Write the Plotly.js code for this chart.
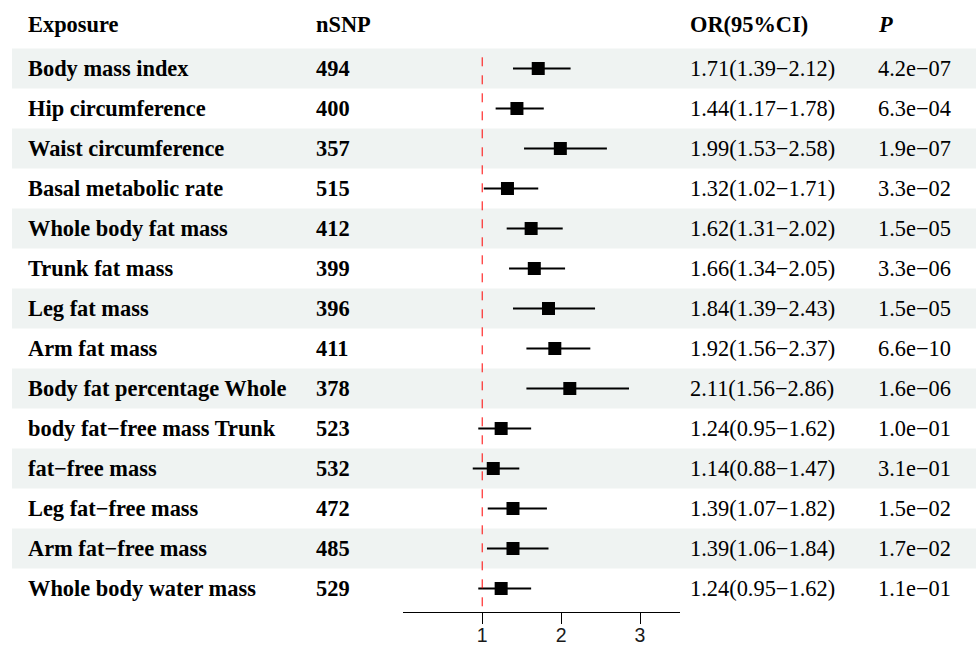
<!DOCTYPE html>
<html>
<head>
<meta charset="utf-8">
<script src="https://cdn.plot.ly/plotly-3.0.1.min.js"></script>
<style>
html,body{margin:0;padding:0;background:#fff;}
#chart{width:976px;height:648px;}
</style>
</head>
<body>
<div id="chart"></div>
<script>
// ---- data ----
const exposures = [
  "Body mass index","Hip circumference","Waist circumference","Basal metabolic rate",
  "Whole body fat mass","Trunk fat mass","Leg fat mass","Arm fat mass",
  "Body fat percentage Whole","body fat\u2212free mass Trunk","fat\u2212free mass",
  "Leg fat\u2212free mass","Arm fat\u2212free mass","Whole body water mass"
];
const nSNP = [494,400,357,515,412,399,396,411,378,523,532,472,485,529];
const orVal = [1.71,1.44,1.99,1.32,1.62,1.66,1.84,1.92,2.11,1.24,1.14,1.39,1.39,1.24];
const ciLow = [1.39,1.17,1.53,1.02,1.31,1.34,1.39,1.56,1.56,0.95,0.88,1.07,1.06,0.95];
const ciHigh = [2.12,1.78,2.58,1.71,2.02,2.05,2.43,2.37,2.86,1.62,1.47,1.82,1.84,1.62];
const pVals = ["4.2e\u221207","6.3e\u221204","1.9e\u221207","3.3e\u221202","1.5e\u221205","3.3e\u221206",
  "1.5e\u221205","6.6e\u221210","1.6e\u221206","1.0e\u221201","3.1e\u221201","1.5e\u221202","1.7e\u221202","1.1e\u221201"];
const headers = ["Exposure","nSNP","OR(95%CI)","P"];
const tickVals = [1,2,3];
const tickText = ["1","2","3"];
const refValue = 1;

// ---- layout helpers ----
const W = 976, H = 648;
const rows = exposures.map((_, i) => i + 1);
const fmt = v => v.toFixed(2);
const serif = "Liberation Serif, Times New Roman, serif";
const txtFont = {family: serif, size: 22.4, color: "#000"};

const shapes = [];
rows.forEach((r, i) => {
  if (i % 2 === 0) {
    shapes.push({type:"rect", xref:"paper", yref:"y", x0:12/W, x1:1, y0:r-0.5, y1:r+0.5,
      fillcolor:"#eff3f2", line:{width:0}, layer:"below"});
  }
});
shapes.push({type:"line", xref:"x", yref:"y", x0:refValue, x1:refValue, y0:0.72, y1:14.45,
  line:{color:"#ff0000", width:1, dash:"dash"}});

const annotations = [];
function addText(x, y, text) {
  annotations.push({xref:"paper", yref:"y", x:x/W, y:y, xanchor:"left", yanchor:"middle",
    text:text, showarrow:false, font:txtFont, borderpad:0});
}
const colX = [27, 315, 689, 877];
const headerRow = -0.11;
addText(colX[0], headerRow, "<b>" + headers[0] + "</b>");
addText(colX[1], headerRow, "<b>" + headers[1] + "</b>");
addText(colX[2], headerRow, "<b>" + headers[2] + "</b>");
addText(colX[3], headerRow, "<b><i>" + headers[3] + "</i></b>");
rows.forEach((r, i) => {
  addText(colX[0], r, "<b>" + exposures[i] + "</b>");
  addText(colX[1], r, "<b>" + nSNP[i] + "</b>");
  addText(colX[2], r, fmt(orVal[i]) + "(" + fmt(ciLow[i]) + "\u2212" + fmt(ciHigh[i]) + ")");
  addText(colX[3], r, pVals[i]);
});

const trace = {
  type: "scatter", mode: "markers",
  x: orVal, y: rows,
  marker: {symbol: "square", size: 13, color: "#000"},
  error_x: {type: "data", symmetric: false,
    array: orVal.map((v, i) => ciHigh[i] - v),
    arrayminus: orVal.map((v, i) => v - ciLow[i]),
    color: "#000", thickness: 2, width: 0},
  hoverinfo: "skip", showlegend: false
};

const pxTop = 28.5, rowH = 40, axisPx = 612;
const layout = {
  width: W, height: H,
  margin: {l:0, r:0, t:0, b:0, pad:0},
  paper_bgcolor: "#fff", plot_bgcolor: "rgba(0,0,0,0)",
  showlegend: false,
  xaxis: {
    domain: [403.3/W, 679.5/W], range: [0, 3.5],
    showgrid: false, zeroline: false, showline: true, linecolor: "#000", linewidth: 1,
    ticks: "outside", ticklen: 11, tickwidth: 1, tickcolor: "#000",
    tickvals: tickVals, ticktext: tickText, ticklabelstandoff: -5,
    tickfont: {family: "Liberation Sans, Arial, sans-serif", size: 19.5, color: "#1a1a1a"},
    anchor: "y", fixedrange: true
  },
  yaxis: {
    domain: [(H - axisPx)/H, 1],
    range: [(axisPx - pxTop)/rowH, (0 - pxTop)/rowH],
    showgrid: false, zeroline: false, showline: false, showticklabels: false, ticks: "",
    fixedrange: true
  },
  shapes: shapes,
  annotations: annotations
};

Plotly.newPlot("chart", [trace], layout, {staticPlot: true, displayModeBar: false});
</script>
</body>
</html>
